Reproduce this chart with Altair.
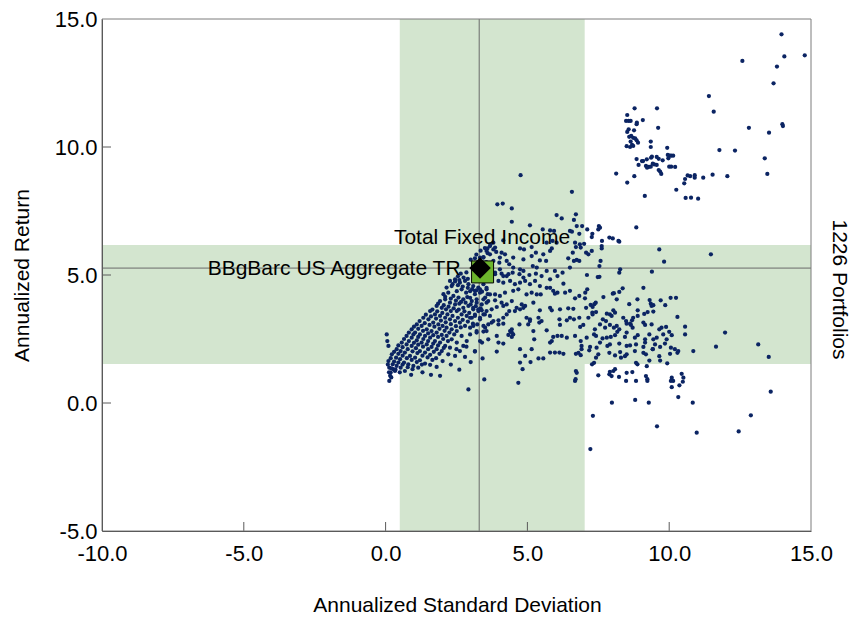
import altair as alt
import pandas as pd

FONT = "Liberation Sans"
NAVY = "#0b2463"
BAND = "#d3e5cf"

# ---------------- data (annualized std dev, annualized return) ----------------
core_band = [
    (2.27,4.77),(2.45,4.83),(2.62,4.70),(2.80,4.77),(2.92,4.64),(3.09,4.57),(3.27,4.51),(3.45,4.64),(3.56,4.44),
    (2.15,4.51),(2.33,4.57),(2.51,4.37),(2.68,4.44),(2.84,4.31),(2.98,4.37),(3.15,4.25),(3.33,4.31),(3.51,4.12),
    (2.04,4.25),(2.21,4.31),(2.39,4.18),(2.57,4.12),(2.74,4.05),(2.88,4.14),(3.04,3.98),(3.21,3.92),(3.39,3.85),(3.56,3.92),
    (1.92,3.98),(2.10,4.05),(2.27,3.92),(2.45,3.85),(2.60,3.88),(2.74,3.72),(2.92,3.79),(3.09,3.66),(3.27,3.59),(3.45,3.46),
    (1.80,3.79),(1.98,3.72),(2.13,3.66),(2.30,3.59),(2.51,3.59),(2.68,3.46),(2.86,3.40),(3.04,3.33),(3.33,3.27),(3.51,2.94),
    (1.57,3.59),(1.74,3.46),(1.92,3.40),(2.10,3.33),(2.27,3.27),(2.45,3.20),(2.62,3.14),(2.80,3.01),(2.98,2.94),(3.21,2.81),
    (1.33,3.33),(1.51,3.27),(1.68,3.14),(1.86,3.07),(2.01,3.01),(2.15,2.94),(2.33,2.88),(2.51,2.81),(2.68,2.62),(2.86,2.42),(3.15,2.03),
    (1.10,3.07),(1.27,3.01),(1.45,2.88),(1.62,2.81),(1.80,2.75),(1.98,2.66),(2.15,2.62),(2.33,2.49),(2.51,2.36),(2.74,2.23),
    (0.92,2.88),(1.04,2.75),(1.21,2.68),(1.39,2.62),(1.57,2.55),(1.74,2.42),(1.92,2.36),(2.10,2.23),(2.27,2.16),(2.62,2.03),
    (0.74,2.62),(0.92,2.55),(1.10,2.45),(1.27,2.36),(1.45,2.29),(1.62,2.19),(1.80,2.10),(1.98,2.03),(2.21,1.90),(2.45,1.84),
    (0.57,2.36),(0.74,2.29),(0.92,2.23),(1.07,2.14),(1.21,2.03),(1.39,1.97),(1.57,1.88),(1.78,1.75),(2.01,1.64),
    (0.39,2.10),(0.53,2.03),(0.68,1.97),(0.86,1.84),(1.04,1.77),(1.21,1.67),(1.39,1.54),(1.57,1.49),(1.80,1.41),
    (0.22,1.90),(0.37,1.77),(0.51,1.71),(0.65,1.58),(0.80,1.51),(0.98,1.45),(1.15,1.38),
    (0.10,1.64),(0.25,1.51),(0.39,1.45),(0.53,1.38),(0.68,1.25),
    (0.04,2.68),(0.06,2.42),(0.10,2.23),(0.13,1.38),(0.18,1.19),(0.27,1.32),(0.33,1.25),(0.16,1.06),(0.13,0.86),
    (1.92,1.06),(2.92,0.53),
]

core_fill = [
    (2.36,4.64),(2.55,4.60),(2.72,4.55),(2.90,4.50),(3.05,4.45),(3.20,4.40),(3.40,4.35),(3.60,4.25),
    (2.10,4.15),(2.30,4.08),(2.48,4.00),(2.66,3.95),(2.82,3.92),(3.00,3.85),(3.18,3.78),(3.35,3.70),
    (1.85,3.88),(2.05,3.82),(2.22,3.76),(2.40,3.70),(2.58,3.65),(2.78,3.58),(2.95,3.52),(3.15,3.45),
    (1.65,3.65),(1.82,3.58),(2.00,3.52),(2.18,3.46),(2.36,3.40),(2.55,3.33),(2.72,3.25),(2.90,3.18),(3.08,3.10),
    (1.42,3.45),(1.60,3.38),(1.78,3.30),(1.95,3.22),(2.12,3.15),(2.30,3.08),(2.48,3.00),(2.65,2.95),
    (1.20,3.20),(1.38,3.12),(1.55,3.05),(1.72,2.98),(1.90,2.90),(2.08,2.82),(2.25,2.75),(2.42,2.68),
    (1.00,2.98),(1.15,2.90),(1.32,2.82),(1.50,2.72),(1.68,2.65),(1.85,2.58),(2.03,2.50),(2.20,2.42),
    (0.82,2.75),(0.98,2.68),(1.15,2.58),(1.33,2.50),(1.50,2.42),(1.68,2.32),(1.85,2.25),(2.05,2.15),
    (0.65,2.50),(0.82,2.42),(1.00,2.35),(1.15,2.28),(1.32,2.20),(1.50,2.10),(1.70,2.00),(1.90,1.92),
    (0.45,2.25),(0.60,2.18),(0.78,2.10),(0.95,2.02),(1.12,1.95),(1.30,1.85),(1.48,1.78),(1.65,1.68),
    (0.30,2.00),(0.45,1.92),(0.60,1.85),(0.75,1.75),(0.92,1.68),(1.10,1.60),(1.28,1.50),
    (0.18,1.75),(0.30,1.62),(0.45,1.58),(0.60,1.50),(0.78,1.40),(0.95,1.32),
    (0.08,1.50),(0.20,1.35),(0.35,1.30),(0.50,1.20),(0.12,1.20),(0.20,1.00),
    (0.90,1.10),(1.30,1.20),(1.60,1.10),(2.30,1.50),(2.60,1.30),(2.80,1.80),(3.00,1.60),(2.50,2.10),(2.85,2.20),
]

near_bench = [
    (2.55,4.95),(2.65,5.05),(2.75,4.90),(2.85,5.10),(2.90,4.85),(2.60,4.80),(2.45,4.75),(3.00,5.60),
    (3.20,5.80),(3.35,5.95),(3.50,6.05),(3.60,5.85),(3.45,5.70),(3.70,6.20),(3.80,6.00),(3.90,5.90),
    (3.25,5.50),(3.55,5.50),(3.15,5.65),
]

mid_cloud = [
    (3.86,5.03),(4.09,5.05),(4.27,4.96),(4.48,5.09),(4.72,5.03),(4.86,4.90),(5.07,5.00),(5.30,5.05),(5.50,4.96),(5.80,4.83),(6.06,4.96),
    (3.98,4.77),(4.15,4.70),(4.39,4.77),(4.56,4.64),(4.74,4.70),(4.92,4.77),(5.09,4.64),(5.27,4.77),(5.44,4.57),(5.68,4.50),(5.91,4.38),(6.06,4.31),
    (3.15,4.38),(3.33,4.44),(3.56,4.50),(3.68,4.24),(3.86,4.24),(4.03,4.18),(4.21,4.31),(4.50,4.38),(4.68,4.44),(4.97,4.24),(5.15,4.31),(5.33,4.24),(5.47,4.24),(5.80,4.50),(5.97,4.27),
    (2.98,4.11),(3.21,4.05),(3.45,4.05),(3.62,3.98),(3.86,4.01),(4.09,3.92),(4.27,3.85),(4.45,3.98),(4.62,3.72),(4.80,3.85),(4.92,3.79),(5.21,3.92),
    (3.09,3.72),(3.27,3.66),(3.39,3.62),(3.56,3.59),(3.74,3.66),(3.92,3.75),(4.15,3.79),(4.36,3.59),(4.56,3.59),(4.74,3.66),(4.86,3.72),(5.44,3.62),(5.80,3.72),(5.86,3.62),
    (2.98,3.33),(3.15,3.40),(3.33,3.33),(3.50,3.46),(3.68,3.40),(3.80,3.20),(3.98,3.23),(4.15,3.33),(4.27,3.46),(4.97,3.33),(5.09,3.27),(5.39,3.33),(5.50,3.20),(6.13,3.27),
    (3.09,3.01),(3.23,3.07),(3.45,3.01),(3.62,3.07),(3.74,3.14),(3.98,3.07),(4.15,3.10),(4.39,2.81),(4.45,2.88),(4.72,3.07),(5.03,3.07),(5.09,3.20),(5.42,3.14),(5.68,2.84),
    (3.21,2.75),(3.45,2.79),(3.56,2.81),(3.92,2.62),(4.33,2.66),(4.45,2.75),(4.50,2.68),(5.21,2.81),(6.06,2.62),
    (2.98,2.68),(3.33,2.42),(3.62,2.49),(3.98,2.36),(4.15,2.32),(4.45,2.58),(5.24,2.49),(5.80,2.36),(5.86,2.42),(5.91,2.58),
    (3.15,2.01),(3.40,2.36),(3.92,2.01),(4.74,2.10),(5.15,2.10),(5.80,1.97),(5.97,1.97),(6.13,1.97),
    (3.42,1.74),(4.74,1.58),(4.92,1.84),(5.11,1.60),(5.39,1.74),(5.56,1.74),
    (4.83,1.32),(3.48,0.92),(4.68,0.79),
]

upper_mid = [
    (4.76,8.90),(3.94,7.76),(4.13,7.79),(4.45,7.60),(6.03,7.34),(4.45,7.08),(5.09,6.94),
    (5.54,6.78),(5.80,6.74),(5.94,6.72),(5.89,6.33),(6.03,6.26),(5.68,6.26),
    (4.15,6.35),(3.80,6.26),(3.68,6.13),(3.86,6.07),(3.59,6.04),(5.15,6.09),(4.74,6.04),(4.88,6.00),
    (5.56,5.81),(5.30,5.87),(5.80,5.94),(5.86,6.04),(4.50,5.68),(4.86,5.61),(5.15,5.74),(5.44,5.57),(5.66,5.55),
    (4.50,5.29),(4.74,5.22),(4.86,5.16),(5.19,5.35),(5.33,5.29),(5.68,5.16),(5.97,5.16),
    (4.03,5.68),(4.09,5.87),(4.21,5.81),(4.01,5.48),(4.27,5.55),(4.36,5.42),(3.68,5.81),(3.56,5.94),
    (3.45,5.68),(3.33,5.68),(3.80,5.55),(3.45,5.29),(3.68,5.16),(3.86,5.09),(4.03,5.22),(4.15,4.96),(4.33,5.03),
]

right_upper = [
    (6.57,8.25),(8.84,6.86),(6.71,7.37),(6.64,7.15),(6.21,7.21),(6.74,6.91),(6.93,6.91),(6.50,6.72),(6.57,6.69),
    (7.11,6.78),(7.52,6.91),(7.56,6.85),(7.50,6.78),(7.29,6.61),(7.27,6.48),(6.83,6.61),(7.89,6.46),(8.01,6.43),
    (8.21,6.33),(8.24,6.30),(7.63,6.33),(7.62,6.13),(7.62,6.04),(6.68,6.26),(6.85,6.20),(7.00,6.22),(6.71,6.09),
    (6.88,6.07),(7.07,5.87),(7.15,5.81),(6.60,5.87),(7.27,5.94),(9.65,6.00),(11.47,5.81),(9.82,5.52),(6.44,5.65),
    (6.64,5.55),(6.74,5.59),(6.83,5.55),(7.58,5.55),(7.54,5.35),(6.50,5.29),(8.27,5.22),(8.24,5.09),(9.39,5.13),
    (6.24,5.09),(7.10,5.00),(7.48,4.92),(7.54,4.93),(6.27,4.66),(9.09,4.50),(8.36,4.48),(6.50,4.38),(6.33,4.31),
    (7.11,4.44),(7.04,4.31),(8.24,4.34),(8.05,4.29),(6.68,4.09),(6.83,4.18),(7.03,4.09),(7.68,4.14),(8.01,4.27),
    (8.15,4.05),(8.59,3.86),(8.88,4.05),(9.31,4.02),(9.70,4.01),(10.05,4.11),(10.24,4.11),(9.86,3.82),(9.44,3.82),
    (9.35,3.88),(9.38,3.79),(6.15,3.66),(6.44,3.70),(6.62,3.68),(7.07,3.72),(7.30,3.75),(7.36,3.86),(7.41,3.92),
    (7.23,3.83),(8.89,3.62),(9.24,3.55),(9.44,3.57),(9.12,3.48),(8.03,3.62),(8.09,3.53),(7.80,3.49),(7.42,3.55),
    (7.29,3.53),(10.29,3.36),(6.39,3.23),(6.50,3.33),(6.64,3.27),(6.83,3.33),(7.15,3.33),(7.30,3.46),(7.66,3.27),
    (7.77,3.20),(7.91,3.46),(7.97,3.40),(8.38,3.33),(8.48,3.20),(8.69,3.23),(8.73,3.33),(8.62,3.10),(8.89,3.40),(9.09,3.14),
]

right_lower = [
    (6.15,3.05),(6.86,2.97),(6.97,3.05),(7.38,2.88),(7.56,3.07),(7.74,2.94),(7.91,3.05),(8.05,2.94),(8.15,3.01),
    (8.24,2.88),(8.50,3.10),(8.65,3.05),(8.71,2.94),(9.15,3.05),(9.38,3.07),(9.65,2.88),(9.73,2.94),(9.89,2.97),
    (6.21,2.62),(6.39,2.55),(6.68,2.62),(7.09,2.55),(7.35,2.68),(7.42,2.62),(7.65,2.52),(7.80,2.55),(7.94,2.58),
    (8.09,2.65),(8.17,2.78),(8.44,2.58),(8.50,2.75),(8.79,2.55),(8.89,2.65),(9.15,2.49),(9.30,2.68),(9.44,2.49),
    (9.56,2.55),(9.79,2.68),(9.91,2.49),(10.00,2.78),(10.09,2.65),
    (6.88,2.42),(6.91,2.23),(7.21,2.19),(7.44,2.16),(7.56,2.36),(7.82,2.23),(7.91,2.29),(8.24,2.32),(8.50,2.23),
    (8.62,2.25),(8.83,2.29),(9.09,2.19),(9.15,2.36),(9.42,2.10),(9.50,2.29),(9.68,2.19),(9.85,2.32),(10.06,2.16),(10.20,2.10),
    (6.27,1.92),(6.71,1.92),(6.80,1.96),(6.88,1.87),(6.91,2.10),(7.18,2.06),(7.28,1.51),(7.35,1.57),(7.50,1.90),
    (7.42,1.77),(7.89,1.96),(8.09,1.86),(8.27,1.99),(8.30,1.77),(8.44,1.83),(8.50,1.90),(8.79,2.03),(8.83,1.57),
    (8.88,1.51),(9.09,1.96),(9.18,1.90),(9.21,1.44),(9.30,1.66),(9.42,2.10),(9.65,1.83),(9.68,1.66),(9.93,1.55),
    (10.03,1.92),(10.29,1.96),(10.32,2.03),
    (13.14,2.29),(13.51,1.80),(11.97,2.75),(11.65,2.20),(10.85,2.03),(10.56,2.98),(10.56,2.68),
]

below_band = [
    (6.68,0.86),(8.48,0.86),(8.83,0.86),(9.23,0.86),(10.06,0.86),(10.14,0.86),(10.48,0.83),(10.09,0.62),
    (10.36,0.69),(13.58,0.44),(7.98,0.01),(8.80,0.12),(9.28,0.01),(10.32,0.23),(10.83,0.01),(7.31,-0.50),
    (12.88,-0.48),(9.57,-0.91),(10.97,-1.16),(12.45,-1.11),(7.22,-1.80),
    (7.50,1.08),(7.89,1.12),(7.97,1.05),(7.91,1.22),(8.03,1.25),(8.09,1.32),(8.23,1.02),(8.50,1.18),(8.70,1.21),
    (9.18,1.05),(9.23,0.93),(10.09,0.99),(10.44,1.14),(10.50,0.99),(6.71,1.25),(6.74,1.18),(6.70,0.93),
]

top_right = [
    (13.96,14.40),(14.78,13.58),(14.06,13.54),(12.58,13.36),(13.80,13.14),(13.68,12.49),(11.40,11.99),(11.57,11.38),
    (12.81,10.75),(13.52,10.56),(13.99,10.89),(14.01,10.82),(11.77,9.88),(12.32,9.86),(13.37,9.56),(13.46,8.95),
    (12.05,8.86),(11.53,8.92),(11.20,8.80),(10.90,8.90),(10.90,8.80),(10.74,8.86),(10.65,8.89),(10.56,8.75),
    (10.53,8.58),(10.25,8.33),(10.58,8.01),(10.77,8.02),(11.02,7.98),(9.14,8.09),(8.52,8.61),(8.13,8.96),(8.77,8.86),
    (8.78,11.51),(9.57,11.51),(8.52,11.25),(8.48,11.02),(8.57,11.02),(8.64,11.02),(8.86,10.95),(8.85,10.89),
    (9.07,11.05),(9.61,10.75),(8.57,10.69),(8.52,10.59),(8.76,10.65),(8.59,10.40),(8.66,10.43),(8.73,10.36),
    (8.80,10.34),(8.85,10.26),(8.90,10.17),(8.64,10.21),(8.69,10.08),(8.73,10.04),(8.50,10.03),(8.62,10.00),
    (9.35,10.21),(9.35,10.00),(9.93,9.97),
    (8.85,9.53),(9.04,9.45),(9.08,9.45),(9.21,9.52),(9.36,9.58),(9.39,9.62),(9.56,9.61),(9.63,9.54),(9.77,9.48),
    (9.95,9.69),(10.02,9.66),(10.07,9.66),(10.14,9.66),(9.97,9.56),
    (8.92,9.30),(9.18,9.26),(9.22,9.19),(9.28,9.22),(9.35,9.23),(9.42,9.35),(9.47,9.32),(9.56,9.30),(9.63,9.10),
    (9.68,9.04),(9.72,8.95),(10.00,9.23),(10.07,9.23),(10.21,9.22),
]

bench_names = ["BBgBarc US Aggregate TR", "Total Fixed Income"]
bench_sd = [3.42, 3.33]
bench_ret = [5.12, 5.27]

sd_band = [0.50, 7.02]
ret_band = [1.52, 6.17]
cross_sd = [3.30]
cross_ret = [5.27]

x_domain = [-10, 15]
y_domain = [-5, 15]
x_ticks = [-10, -5, 0, 5, 10, 15]
y_ticks = [-5, 0, 5, 10, 15]
x_inner_ticks = [-5, 0, 5, 10]
y_inner_ticks = [0, 5, 10]

# ---------------- chart ----------------
W, H = 709, 512
TICK_FS = 22
TITLE_FS = 21

pts = pd.DataFrame(core_band + core_fill + near_bench + mid_cloud + upper_mid
                   + right_upper + right_lower + below_band + top_right,
                   columns=["sd", "ret"])
bench = pd.DataFrame({"name": bench_names, "sd": bench_sd, "ret": bench_ret})

xs = alt.Scale(domain=x_domain, nice=False, zero=False)
ys = alt.Scale(domain=y_domain, nice=False, zero=False)
label_expr = "replace(format(datum.value, '.1f'), '\u2212', '-')"

x_axis = alt.Axis(values=x_ticks, labelExpr=label_expr, ticks=False, grid=False,
                  domainColor="#5a5a5a", domainWidth=1, labelFont=FONT, labelFontSize=TICK_FS,
                  labelColor="black", labelPadding=12, labelFlush=False, labelOverlap=False,
                  title="Annualized Standard Deviation", titleFont=FONT, titleFontSize=TITLE_FS,
                  titleFontWeight="normal", titleColor="black", titleX=355, titleY=74,
                  titleBaseline="middle", titleAlign="center", zindex=1)
y_axis = alt.Axis(values=y_ticks, labelExpr=label_expr, ticks=False, grid=False,
                  domainColor="#5a5a5a", domainWidth=1, labelFont=FONT, labelFontSize=TICK_FS,
                  labelColor="black", labelPadding=5, labelFlush=False, labelOverlap=False,
                  title="Annualized Return", titleFont=FONT, titleFontSize=TITLE_FS,
                  titleFontWeight="normal", titleColor="black", titleAngle=270, titleX=-80,
                  titleY=256, titleBaseline="middle", titleAlign="center", zindex=1)
right_axis = alt.Axis(orient="right", labels=False, ticks=False, domain=False, grid=False,
                      title="1226 Portfolios", titleFont=FONT, titleFontSize=TITLE_FS,
                      titleFontWeight="normal", titleColor="black", titleAngle=90, titleX=27,
                      titleY=270, titleBaseline="middle", titleAlign="center")

X = lambda f: alt.X(f, type="quantitative", scale=xs, axis=x_axis)

vband_df = pd.DataFrame({"x0": [sd_band[0]], "x1": [sd_band[1]], "y0": [y_domain[0]], "y1": [y_domain[1]]})
hband_df = pd.DataFrame({"x0": [x_domain[0]], "x1": [x_domain[1]], "y0": [ret_band[0]], "y1": [ret_band[1]]})

vband = alt.Chart(vband_df).mark_rect(color=BAND, opacity=1).encode(
    x=X("x0"), x2="x1", y=alt.Y("y0:Q", scale=ys, axis=y_axis), y2="y1")
hband = alt.Chart(hband_df).mark_rect(color=BAND, opacity=1).encode(
    x=X("x0"), x2="x1", y=alt.Y("y0:Q", scale=ys, axis=None), y2="y1")

vline = alt.Chart(pd.DataFrame({"sd": cross_sd})).mark_rule(color="#6a6a6a", strokeWidth=1).encode(
    x=X("sd"), y=alt.value(0), y2=alt.value(H))
hline = alt.Chart(pd.DataFrame({"ret": cross_ret})).mark_rule(color="#6a6a6a", strokeWidth=1).encode(
    y=alt.Y("ret:Q", scale=ys, axis=None), x=alt.value(0), x2=alt.value(W))

xt = alt.Chart(pd.DataFrame({"v": x_inner_ticks})).mark_rule(color="#5a5a5a", strokeWidth=1).encode(
    x=X("v"), y=alt.value(H), y2=alt.value(H - 9))
yt = alt.Chart(pd.DataFrame({"v": y_inner_ticks})).mark_rule(color="#5a5a5a", strokeWidth=1).encode(
    y=alt.Y("v:Q", scale=ys, axis=None), x=alt.value(0), x2=alt.value(9))

frame = alt.Chart(pd.DataFrame({"a": [0]})).mark_rect(fill="transparent", stroke="#7d7d7d", strokeWidth=1).encode(
    x=alt.value(0), x2=alt.value(W), y=alt.value(0), y2=alt.value(H))

points = alt.Chart(pts).mark_circle(size=18, color=NAVY, opacity=1).encode(
    x=X("sd"), y=alt.Y("ret:Q", scale=ys, axis=right_axis))

square = alt.Chart(bench).transform_filter(alt.datum.name == bench_names[0]).mark_point(
    shape="square", filled=True, size=484, fill="#6cb52c", stroke="black", strokeWidth=1, opacity=1
).encode(x=X("sd"), y=alt.Y("ret:Q", scale=ys, axis=None))
diamond = alt.Chart(bench).transform_filter(alt.datum.name == bench_names[1]).mark_point(
    shape="diamond", filled=True, size=460, color="black", opacity=1
).encode(x=X("sd"), y=alt.Y("ret:Q", scale=ys, axis=None))

lab_agg = alt.Chart(bench).transform_filter(alt.datum.name == bench_names[0]).mark_text(
    font=FONT, fontSize=TITLE_FS, color="black", align="right", baseline="alphabetic", dx=-22, dy=3
).encode(x=X("sd"), y=alt.Y("ret:Q", scale=ys, axis=None), text="name:N")
lab_tfi = alt.Chart(bench).transform_filter(alt.datum.name == bench_names[1]).mark_text(
    font=FONT, fontSize=TITLE_FS, color="black", align="center", baseline="alphabetic", dx=2, dy=-24
).encode(x=X("sd"), y=alt.Y("ret:Q", scale=ys, axis=None), text="name:N")

chart = alt.layer(
    vband, hband, vline, hline, points, xt, yt, frame, square, diamond, lab_agg, lab_tfi
).resolve_axis(y="independent").properties(
    width=W, height=H,
    autosize=alt.AutoSizeParams(type="none"),
    padding={"left": 94, "top": 11, "right": 40, "bottom": 85},
).configure_view(stroke="transparent")

chart.save("out.html", embed_options={"renderer": "svg", "actions": False})
